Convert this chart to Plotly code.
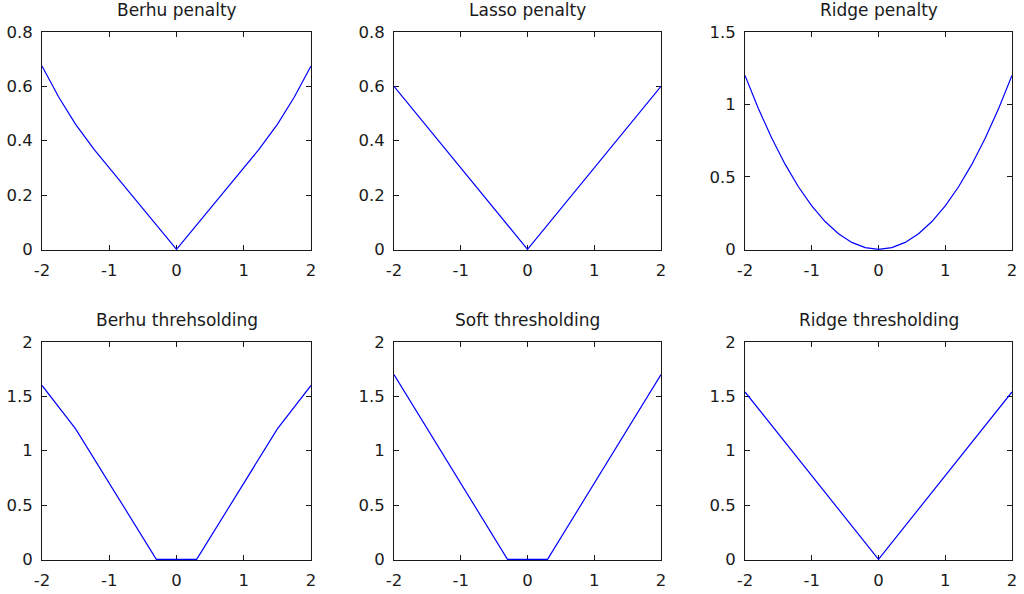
import plotly.graph_objects as go

# ---- data ----
titles = ["Berhu penalty", "Lasso penalty", "Ridge penalty",
          "Berhu threhsolding", "Soft thresholding", "Ridge thresholding"]

berhu_pen_x = [-2, -1.75, -1.5, -1.22, -1, -0.5, 0, 0.5, 1, 1.22, 1.5, 1.75, 2]
berhu_pen_y = [0.675, 0.560, 0.460, 0.366, 0.30, 0.15, 0, 0.15, 0.30, 0.366, 0.460, 0.560, 0.675]

lasso_pen_x = [-2, 0, 2]
lasso_pen_y = [0.6, 0, 0.6]

ridge_pen_x = [-2, -1.8, -1.6, -1.4, -1.2, -1.0, -0.8, -0.6, -0.4, -0.2, 0,
               0.2, 0.4, 0.6, 0.8, 1.0, 1.2, 1.4, 1.6, 1.8, 2]
ridge_pen_y = [1.2, 0.972, 0.768, 0.588, 0.432, 0.3, 0.192, 0.108, 0.048, 0.012, 0,
               0.012, 0.048, 0.108, 0.192, 0.3, 0.432, 0.588, 0.768, 0.972, 1.2]

berhu_thr_x = [-2, -1.5, -0.3, 0.3, 1.5, 2]
berhu_thr_y = [1.6, 1.2, 0, 0, 1.2, 1.6]

soft_thr_x = [-2, -0.3, 0.3, 2]
soft_thr_y = [1.7, 0, 0, 1.7]

ridge_thr_x = [-2, 0, 2]
ridge_thr_y = [1.54, 0, 1.54]

x_ticks = [-2, -1, 0, 1, 2]
x_tick_text = ["-2", "-1", "0", "1", "2"]
y_ticks_a = [0, 0.2, 0.4, 0.6, 0.8]
y_tick_text_a = ["0", "0.2", "0.4", "0.6", "0.8"]
y_ticks_b = [0, 0.5, 1, 1.5]
y_tick_text_b = ["0", "0.5", "1", "1.5"]
y_ticks_c = [0, 0.5, 1, 1.5, 2]
y_tick_text_c = ["0", "0.5", "1", "1.5", "2"]

series = [
    (berhu_pen_x, berhu_pen_y, [0, 0.8], y_ticks_a, y_tick_text_a),
    (lasso_pen_x, lasso_pen_y, [0, 0.8], y_ticks_a, y_tick_text_a),
    (ridge_pen_x, ridge_pen_y, [0, 1.5], y_ticks_b, y_tick_text_b),
    (berhu_thr_x, berhu_thr_y, [0, 2], y_ticks_c, y_tick_text_c),
    (soft_thr_x, soft_thr_y, [0, 2], y_ticks_c, y_tick_text_c),
    (ridge_thr_x, ridge_thr_y, [0, 2], y_ticks_c, y_tick_text_c),
]

# ---- layout geometry ----
W, H = 1024, 594
col_px = [(42, 311), (394, 661), (745, 1012)]
row_px = [(32, 250), (342, 560)]

FONT = "DejaVu Sans"
TXT = "#1a1a1a"
fig = go.Figure()
layout = dict(
    width=W, height=H,
    margin=dict(l=0, r=0, t=0, b=0, pad=0, autoexpand=False),
    paper_bgcolor="white", plot_bgcolor="white", showlegend=False,
    font=dict(family=FONT, size=16, color=TXT),
    annotations=[],
)

axis_common = dict(
    showline=True, linecolor="#1a1a1a", linewidth=1, mirror="allticks",
    ticks="inside", ticklen=5, tickwidth=1, tickcolor="#1a1a1a",
    showgrid=False, zeroline=False, ticklabelstandoff=5, automargin=False,
    layer="below traces",
    tickfont=dict(family=FONT, size=16.5, color=TXT),
)

for i, (xs, ys, yr, yt, ytt) in enumerate(series):
    r, c = divmod(i, 3)
    n = i + 1
    xa = "xaxis" if n == 1 else f"xaxis{n}"
    ya = "yaxis" if n == 1 else f"yaxis{n}"
    xref = "x" if n == 1 else f"x{n}"
    yref = "y" if n == 1 else f"y{n}"
    x0, x1 = col_px[c]
    y0, y1 = row_px[r]
    layout[xa] = dict(axis_common, domain=[x0 / W, x1 / W], range=[-2, 2],
                      tickvals=x_ticks, ticktext=x_tick_text, anchor=yref)
    pad = (yr[1] - yr[0]) * 0.003
    layout[ya] = dict(axis_common, domain=[1 - y1 / H, 1 - y0 / H],
                      range=[yr[0] - pad, yr[1]],
                      tickvals=yt, ticktext=ytt, anchor=xref)
    fig.add_trace(go.Scatter(x=xs, y=ys, mode="lines", xaxis=xref, yaxis=yref,
                             line=dict(color="#0000ff", width=1.2)))
    layout["annotations"].append(dict(
        text=titles[i], xref=f"{xref} domain", yref=f"{yref} domain",
        x=0.5, y=1, xanchor="center", yanchor="bottom", yshift=10,
        showarrow=False, font=dict(family=FONT, size=17, color=TXT)))

fig.update_layout(**layout)
fig.write_html("out.html")
